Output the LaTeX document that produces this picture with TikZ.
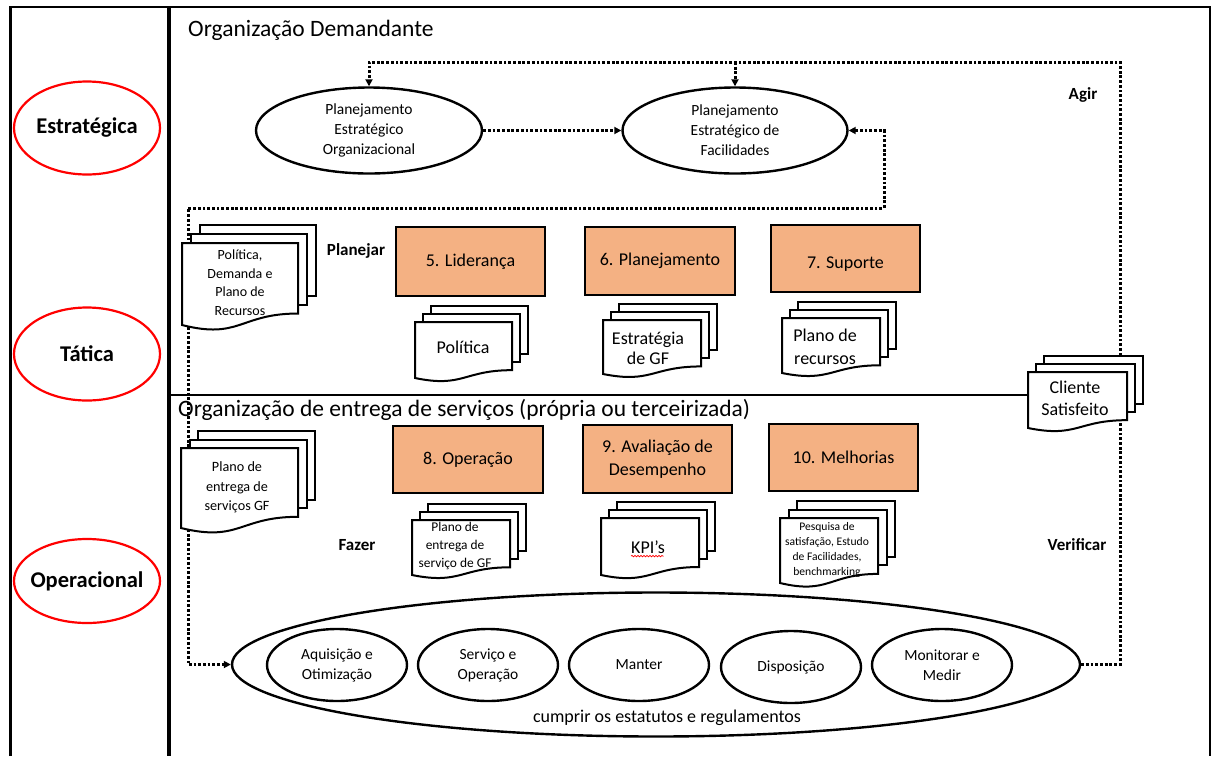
\documentclass[tikz,border=0pt]{standalone}
\usepackage{fontspec}
\setmainfont{Carlito}
\usetikzlibrary{shapes.geometric,arrows.meta,decorations.pathmorphing}
\definecolor{orng}{HTML}{F4B183}
\newcommand{\fsz}[2]{\fontsize{#1}{#2}\selectfont}
\newcommand{\mdoc}[5]{%
 \pgfmathsetmacro{\mdyR}{#2+0.86*(#4-#2)}%
 \pgfmathsetmacro{\mdyC}{#2+1.18*(#4-#2)}%
 \pgfmathsetmacro{\mdxm}{(#1+#3)/2}%
 \draw[docline] ({#1+2*#5},{#2-2*#5}) rectangle ({#3+2*#5},{\mdyR-2*#5});%
 \draw[docline] ({#1+#5},{#2-#5}) rectangle ({#3+#5},{\mdyR-#5});%
 \draw[docline] (#1,#2) -- (#3,#2) -- (#3,\mdyR) .. controls (\mdxm,\mdyR) and (\mdxm,\mdyC) .. (#1,#4) -- cycle;%
}
\tikzset{
 dots/.style={line width=3pt, dash pattern=on 2.8pt off 1.9pt},
 arrowend/.style={-{Triangle[length=7pt,width=7pt]}},
 arrowboth/.style={{Triangle[length=7pt,width=7pt]}-{Triangle[length=7pt,width=7pt]}},
 redtxt/.style={inner sep=0pt, font=\bfseries\fsz{22.5}{26}},
 redring/.style={draw=red, line width=2.2pt},
 bkell/.style={ellipse, draw, line width=2.4pt, inner sep=0pt, align=center},
 obox/.style={draw, fill=orng, line width=1.7pt, inner sep=0pt, align=center, font=\fsz{18}{23}},
 docline/.style={draw, fill=white, line width=2pt, line join=miter},
 doctext/.style={align=center, inner sep=0pt},
 lbl/.style={font=\bfseries\fsz{17}{20}, inner sep=0pt},
 ttl/.style={font=\fsz{23.5}{28}, inner sep=0pt, anchor=west},
}
\begin{document}
\begin{tikzpicture}[x=1pt,y=-1pt]
\fill[white] (0,0) rectangle (1213,756);
\useasboundingbox (0,0) rectangle (1213,756);

% frame
\draw[line width=2.2pt] (10.5,756) -- (10.5,7) -- (1210,7) -- (1210,756);
\draw[line width=4pt] (168.5,7) -- (168.5,756);
\coordinate (cliW) at (1028,395);
\coordinate (midL) at (168.5,395);
\draw[line width=2.2pt] (midL) -- (cliW);

% level ellipses
\node[redtxt] (est) at (87,128) {Estratégica};
\node[redtxt] (tat) at (87,354) {Tática};
\node[redtxt] (ope) at (87,581) {Operacional};
\draw[redring] (est.center) ellipse [x radius=73, y radius=46.5];
\draw[redring] (tat.center) ellipse [x radius=73, y radius=46.5];
\draw[redring] (ope.center) ellipse [x radius=73, y radius=42];

% titles
\node[ttl] (t1) at (188,30) {Organização Demandante};
\node[ttl] (t2) at (178,410) {Organização de entrega de serviços (própria ou terceirizada)};

% top ellipses
\node[bkell, minimum width=226pt, minimum height=86pt, font=\fsz{15.5}{20}] (peo) at (369,130.5) {Planejamento\\Estratégico\\Organizacional};
\node[bkell, minimum width=225pt, minimum height=86pt, font=\fsz{15.5}{20}] (pef) at (735,130.5) {Planejamento\\Estratégico de\\Facilidades};

% big ellipse
\node[bkell, minimum width=848pt, minimum height=144pt] (big) at (656,664.5) {};
\node[font=\fsz{18}{22}, inner sep=0pt] (cump) at (667,718) {cumprir os estatutos e regulamentos};
\node[bkell, minimum width=140pt, minimum height=72pt, font=\fsz{15.5}{20}] (e1) at (337,665) {Aquisição e\\Otimização};
\node[bkell, minimum width=140pt, minimum height=72pt, font=\fsz{15.5}{20}] (e2) at (488,665) {Serviço e\\Operação};
\node[bkell, minimum width=140pt, minimum height=72pt, font=\fsz{15.5}{20}] (e3) at (639,665) {Manter};
\node[bkell, minimum width=140pt, minimum height=72pt, font=\fsz{15.5}{20}] (e4) at (791,667) {Disposição};
\node[bkell, minimum width=140pt, minimum height=72pt, font=\fsz{15.5}{20}] (e5) at (942,665) {Monitorar e\\Medir};

% dotted connectors
\coordinate (agirTR) at (1120,62);
\coordinate (loopA) at (884,208);
\coordinate (loopB) at (188,208);
\draw[dots, arrowend] (big.east) -| (agirTR) -| (peo.north);
\draw[dots, arrowend] (pef.north |- agirTR) -- (pef.north);
\draw[dots, arrowend] (peo.east) -- (pef.west);
\draw[dots, arrowboth] (pef.east) -| (loopA) -- (loopB) |- (big.west);

% orange boxes
\node[obox, minimum width=149pt, minimum height=69pt] (b5) at (470.5,261.5) {5. Liderança};
\node[obox, minimum width=150pt, minimum height=68pt] (b6) at (660,261) {6. Planejamento};
\node[obox, minimum width=149pt, minimum height=67pt, text depth=0pt, text height=19pt] (b7) at (845.5,258.5) {7. Suporte};
\node[obox, minimum width=150pt, minimum height=67pt] (b8) at (468,459.5) {8. Operação};
\node[obox, minimum width=149pt, minimum height=68pt] (b9) at (657.5,459) {9. Avaliação de\\Desempenho};
\node[obox, minimum width=149pt, minimum height=67pt] (b10) at (843.5,457.5) {10. Melhorias};

% documents
\mdoc{182}{243}{298}{325}{9}
\node[doctext, font=\fsz{14}{18.5}] (dA) at (240,282.5) {Política,\\Demanda e\\Plano de\\Recursos};
\mdoc{415}{322}{512}{378}{8}
\node[doctext, font=\fsz{18}{22}] (dB) at (463,347) {Política};
\mdoc{603}{320}{701}{374}{8}
\node[doctext, font=\fsz{18}{20}] (dC) at (648,348) {Estratégia\\de GF};
\mdoc{782}{318}{880}{373}{8}
\node[doctext, font=\fsz{18}{23}] (dD) at (825,346.5) {Plano de\\recursos};
\mdoc{1028}{372}{1127}{428}{8}
\node[doctext, font=\fsz{18}{22}] (dE) at (1075,398) {Cliente\\Satisfeito};
\mdoc{181}{448}{298}{528}{8.5}
\node[doctext, font=\fsz{14.2}{19.5}] (dF) at (237,487.5) {Plano de\\entrega de\\serviços GF};
\mdoc{412}{520}{510}{575}{8}
\node[doctext, font=\fsz{13.4}{18}] (dG) at (455,546) {Plano de\\entrega de\\serviço de GF};
\mdoc{601}{518}{699}{575}{8}
\node[doctext, font=\fsz{18}{22}] (dH) at (648,547) {KPI’s};
\draw[red, line width=0.7pt, decorate, decoration={snake, amplitude=0.7pt, segment length=3pt}] (dH.south west) ++(0,2.5) -- ++(33,0);
\mdoc{780}{518}{878}{583}{8.5}
\node[doctext, font=\fsz{11.6}{15}] (dI) at (827,550) {Pesquisa de\\satisfação, Estudo\\de Facilidades,\\benchmarking};

% PDCA labels
\node[lbl] (plan) at (356,251) {Planejar};
\node[lbl] (agir) at (1083,95) {Agir};
\node[lbl] (fazer) at (357,545) {Fazer};
\node[lbl] (verif) at (1077,545) {Verificar};
\end{tikzpicture}
\end{document}
